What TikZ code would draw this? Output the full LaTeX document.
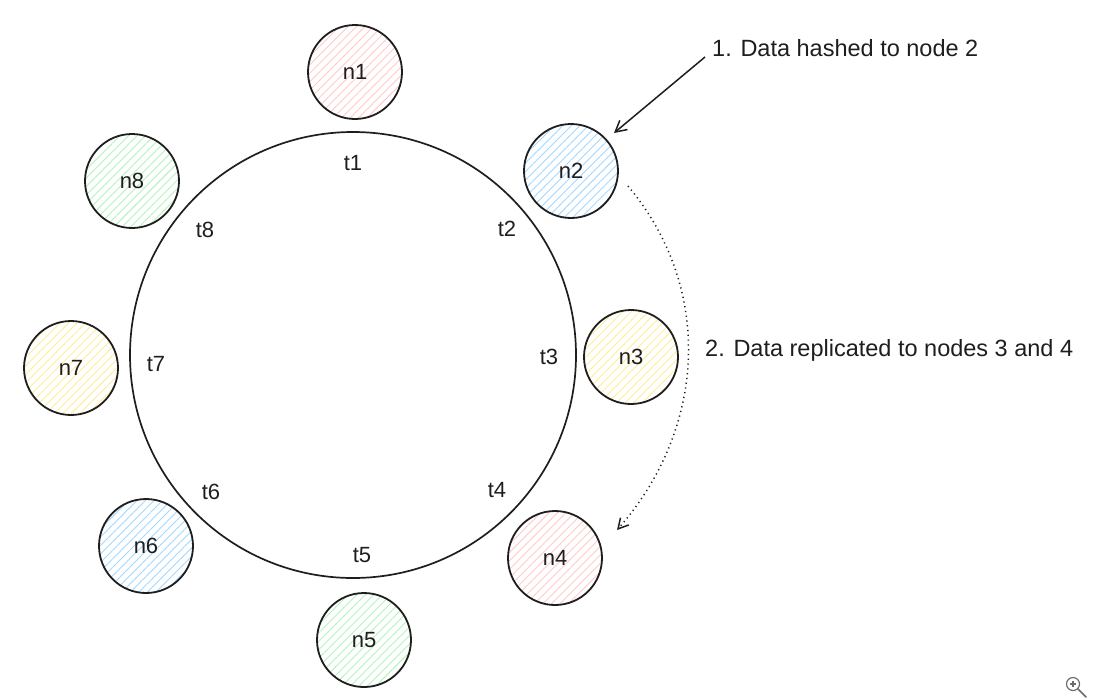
\documentclass[tikz,border=0pt]{standalone}
\usepackage{fontspec}
\setmainfont{Liberation Sans}
\usetikzlibrary{patterns.meta,arrows.meta}
\definecolor{ink}{HTML}{1E1E1E}
\definecolor{hred}{HTML}{FFC9C9}
\definecolor{hblue}{HTML}{A5D8FF}
\definecolor{hyellow}{HTML}{FFEC99}
\definecolor{hgreen}{HTML}{B2F2BB}
\definecolor{uigrey}{HTML}{6B6B6B}
\begin{document}
\begin{tikzpicture}[x=1pt,y=-1pt,
  txt/.style={text=ink, font=\fontsize{23.5}{26}\selectfont},
  ringnode/.style={circle, draw=ink, line width=1.8pt, minimum size=94pt, inner sep=0pt,
     text=ink, font=\fontsize{22}{24}\selectfont,
     pattern={Lines[angle=45,distance=6pt,line width=0.9pt]}},
  tok/.style={txt, font=\fontsize{22}{24}\selectfont, inner sep=0pt},
  note/.style={txt, anchor=west, inner sep=0pt},
  conn/.style={draw=ink, line width=1.5pt}]
\useasboundingbox (0,0) rectangle (1099,697);
\node[circle, draw=ink, line width=1.7pt, minimum size=446pt, inner sep=0pt] (ring) at (353,355) {};
% nodes
\node[ringnode, pattern color=hred] (n1) at (355,72) {n1};
\node[ringnode, pattern color=hblue] (n2) at (571,171) {n2};
\node[ringnode, pattern color=hyellow] (n3) at (631,357) {n3};
\node[ringnode, pattern color=hred] (n4) at (555,558) {n4};
\node[ringnode, pattern color=hgreen] (n5) at (364,640) {n5};
\node[ringnode, pattern color=hblue] (n6) at (146,546) {n6};
\node[ringnode, pattern color=hyellow] (n7) at (71,368) {n7};
\node[ringnode, pattern color=hgreen] (n8) at (132,181) {n8};
% tokens
\node[tok] (t1) at (353,163) {t1};
\node[tok] (t2) at (507,229) {t2};
\node[tok] (t3) at (549,357) {t3};
\node[tok] (t4) at (497,490) {t4};
\node[tok] (t5) at (362,555) {t5};
\node[tok] (t6) at (211,492) {t6};
\node[tok] (t7) at (156,364) {t7};
\node[tok] (t8) at (205,230) {t8};
% notes
\node[note] (lab1) at (712,48) {1. Data hashed to node 2};
\node[note] (lab2) at (705,350) {2. Data replicated to nodes 3 and 4};
% arrows
\coordinate (a1s) at (705,57);
\coordinate (a1e) at (614,133);
\draw[conn, -{Straight Barb[length=11pt,width=12pt]}] (a1s) -- (a1e);
\coordinate (d1) at (628,186);
\coordinate (d2) at (617,530);
\draw[draw=ink, line width=1.5pt, dash pattern=on 1.2pt off 3.6pt, -{Straight Barb[length=10pt,width=11pt]}] (d1) .. controls (715,290) and (705,430) .. (d2);
% viewer icon
\node[circle, draw=uigrey, line width=1.2pt, minimum size=13pt, inner sep=0pt] (mag) at (1073,684) {};
\draw[uigrey, line width=1.2pt] (mag.center) ++(-3pt,0) -- ++(6pt,0);
\draw[uigrey, line width=1.2pt] (mag.center) ++(0,-3pt) -- ++(0,6pt);
\coordinate (magend) at (1086,697);
\draw[uigrey, line width=1.6pt, line cap=round] (mag.south east) -- (magend);
\end{tikzpicture}
\end{document}
